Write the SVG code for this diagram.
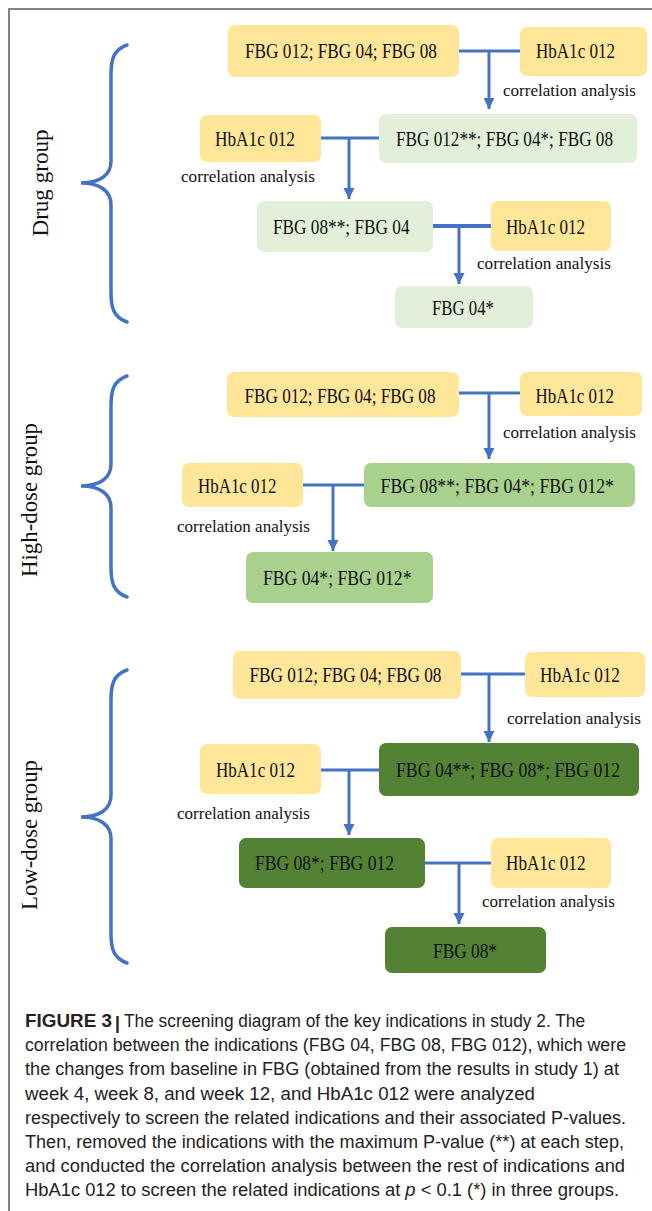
<svg xmlns="http://www.w3.org/2000/svg" width="652" height="1211" viewBox="0 0 652 1211">
<style>
.bg{fill:#ffffff}
.frame{stroke:#5a5a5a;stroke-width:1.5;fill:none}
.brace{stroke:#4472C4;stroke-width:3.5;fill:none;stroke-linecap:round}
.yel{fill:#FFE699}
.lg{fill:#E2F0D9}
.mg{fill:#A9D18E}
.dg{fill:#548235}
.t{font-family:"Liberation Serif","Times New Roman",serif;font-size:20px;fill:#111}
.l{font-family:"Liberation Serif","Times New Roman",serif;font-size:17.5px;fill:#111}
.g{font-family:"Liberation Serif","Times New Roman",serif;font-size:24px;fill:#111}
.c{stroke:#4472C4;stroke-width:3;fill:none}
.cap{font-family:"Liberation Sans",Arial,sans-serif;font-size:17.5px;fill:#222}
</style>
<defs>
<marker id="ah" viewBox="0 0 10 10" refX="10" refY="5" markerWidth="3.8" markerHeight="3.8" orient="auto">
<path d="M0,0 L10,5 L0,10 z" fill="#4472C4"/>
</marker>
</defs>
<rect class="bg" x="0" y="0" width="652" height="1211"/>
<path class="frame" d="M9,1211 L9,9 L652,9"/>

<g id="braces">
<path class="brace" d="M127,45 C113,50 111,60 111,75 L111,161 C111,175 100,183 81,183 C100,183 111,191 111,205 L111,292 C111,307 113,317 127,322"/>
<path class="brace" d="M127,376 C113,381 111,391 111,406 L111,464 C111,478 100,486 81,486 C100,486 111,494 111,508 L111,567 C111,582 113,592 127,597"/>
<path class="brace" d="M127,670 C113,675 111,685 111,700 L111,795 C111,809 100,817 81,817 C100,817 111,825 111,839 L111,933 C111,948 113,958 127,963"/>
</g>

<g id="group-labels">
<text class="g" transform="translate(48,183) rotate(-90)" x="-53.5" y="0" textLength="107" lengthAdjust="spacingAndGlyphs">Drug group</text>
<text class="g" transform="translate(37,500) rotate(-90)" x="-77" y="0" textLength="154" lengthAdjust="spacingAndGlyphs">High-dose group</text>
<text class="g" transform="translate(37,835) rotate(-90)" x="-75" y="0" textLength="150" lengthAdjust="spacingAndGlyphs">Low-dose group</text>
</g>

<g id="connectors">
<line class="c" x1="459" y1="51" x2="520" y2="51"/>
<line class="c" x1="489" y1="51" x2="489" y2="109" marker-end="url(#ah)"/>
<line class="c" x1="321" y1="138" x2="379" y2="138"/>
<line class="c" x1="349" y1="138" x2="349" y2="199" marker-end="url(#ah)"/>
<line class="c" x1="433" y1="226" x2="491" y2="226" style="stroke-width:4"/>
<line class="c" x1="459" y1="226" x2="459" y2="284" marker-end="url(#ah)"/>

<line class="c" x1="459" y1="393" x2="520" y2="393"/>
<line class="c" x1="489" y1="393" x2="489" y2="459" marker-end="url(#ah)"/>
<line class="c" x1="303" y1="485" x2="364" y2="485"/>
<line class="c" x1="333" y1="485" x2="333" y2="551" marker-end="url(#ah)"/>

<line class="c" x1="461" y1="674" x2="525" y2="674"/>
<line class="c" x1="489" y1="674" x2="489" y2="742" marker-end="url(#ah)"/>
<line class="c" x1="321" y1="770" x2="379" y2="770"/>
<line class="c" x1="349" y1="770" x2="349" y2="835" marker-end="url(#ah)"/>
<line class="c" x1="425" y1="863" x2="491" y2="863"/>
<line class="c" x1="459" y1="863" x2="459" y2="924" marker-end="url(#ah)"/>
</g>

<g id="labels">
<text class="l" x="503" y="96" textLength="133" lengthAdjust="spacingAndGlyphs">correlation analysis</text>
<text class="l" x="181" y="182" textLength="134" lengthAdjust="spacingAndGlyphs">correlation analysis</text>
<text class="l" x="477" y="268.5" textLength="134" lengthAdjust="spacingAndGlyphs">correlation analysis</text>
<text class="l" x="503" y="438" textLength="133" lengthAdjust="spacingAndGlyphs">correlation analysis</text>
<text class="l" x="177" y="532" textLength="133" lengthAdjust="spacingAndGlyphs">correlation analysis</text>
<text class="l" x="507" y="724" textLength="134" lengthAdjust="spacingAndGlyphs">correlation analysis</text>
<text class="l" x="177" y="819" textLength="133" lengthAdjust="spacingAndGlyphs">correlation analysis</text>
<text class="l" x="482" y="906.5" textLength="133" lengthAdjust="spacingAndGlyphs">correlation analysis</text>
</g>

<g id="drug-A"><rect class="yel" x="228" y="25" width="231" height="52" rx="7"/><text class="t" x="245" y="58" textLength="192" lengthAdjust="spacingAndGlyphs">FBG 012; FBG 04; FBG 08</text></g>
<g id="drug-B"><rect class="yel" x="520" y="27" width="127" height="49" rx="7"/><text class="t" x="536" y="58" textLength="79" lengthAdjust="spacingAndGlyphs">HbA1c 012</text></g>
<g id="drug-C"><rect class="lg" x="379" y="114" width="258" height="49" rx="7"/><text class="t" x="396" y="146" textLength="217" lengthAdjust="spacingAndGlyphs">FBG 012**; FBG 04*; FBG 08</text></g>
<g id="drug-D"><rect class="yel" x="200" y="115" width="121" height="47" rx="7"/><text class="t" x="215" y="146" textLength="80" lengthAdjust="spacingAndGlyphs">HbA1c 012</text></g>
<g id="drug-E"><rect class="lg" x="257" y="201" width="176" height="51" rx="7"/><text class="t" x="273" y="233.5" textLength="136.5" lengthAdjust="spacingAndGlyphs">FBG 08**; FBG 04</text></g>
<g id="drug-F"><rect class="yel" x="491" y="201" width="120" height="50" rx="7"/><text class="t" x="506" y="233.5" textLength="79" lengthAdjust="spacingAndGlyphs">HbA1c 012</text></g>
<g id="drug-G"><rect class="lg" x="395" y="286" width="138" height="42" rx="7"/><text class="t" x="432" y="315" textLength="62" lengthAdjust="spacingAndGlyphs">FBG 04*</text></g>

<g id="high-A"><rect class="yel" x="227" y="372" width="232" height="45" rx="7"/><text class="t" x="244.5" y="403" textLength="191" lengthAdjust="spacingAndGlyphs">FBG 012; FBG 04; FBG 08</text></g>
<g id="high-B"><rect class="yel" x="520" y="372" width="122" height="44" rx="7"/><text class="t" x="535.5" y="403" textLength="78.5" lengthAdjust="spacingAndGlyphs">HbA1c 012</text></g>
<g id="high-C"><rect class="mg" x="364" y="463" width="271" height="44" rx="7"/><text class="t" x="380.5" y="493" textLength="233.5" lengthAdjust="spacingAndGlyphs">FBG 08**; FBG 04*; FBG 012*</text></g>
<g id="high-D"><rect class="yel" x="182" y="463" width="121" height="44" rx="7"/><text class="t" x="198" y="493" textLength="78.5" lengthAdjust="spacingAndGlyphs">HbA1c 012</text></g>
<g id="high-E"><rect class="mg" x="246" y="552" width="187" height="51" rx="7"/><text class="t" x="263" y="585" textLength="148.5" lengthAdjust="spacingAndGlyphs">FBG 04*; FBG 012*</text></g>

<g id="low-A"><rect class="yel" x="233" y="651" width="228" height="48" rx="7"/><text class="t" x="249.5" y="682" textLength="192" lengthAdjust="spacingAndGlyphs">FBG 012; FBG 04; FBG 08</text></g>
<g id="low-B"><rect class="yel" x="525" y="652" width="120" height="45" rx="7"/><text class="t" x="540" y="682" textLength="80" lengthAdjust="spacingAndGlyphs">HbA1c 012</text></g>
<g id="low-C"><rect class="dg" x="379" y="743" width="260" height="53" rx="7"/><text class="t" x="396" y="777" textLength="224" lengthAdjust="spacingAndGlyphs">FBG 04**; FBG 08*; FBG 012</text></g>
<g id="low-D"><rect class="yel" x="200" y="744" width="121" height="50" rx="7"/><text class="t" x="216" y="777" textLength="79" lengthAdjust="spacingAndGlyphs">HbA1c 012</text></g>
<g id="low-E"><rect class="dg" x="239" y="838" width="186" height="50" rx="7"/><text class="t" x="255" y="870" textLength="139" lengthAdjust="spacingAndGlyphs">FBG 08*; FBG 012</text></g>
<g id="low-F"><rect class="yel" x="491" y="838" width="120" height="50" rx="7"/><text class="t" x="506" y="870" textLength="79.5" lengthAdjust="spacingAndGlyphs">HbA1c 012</text></g>
<g id="low-G"><rect class="dg" x="385" y="927" width="161" height="46" rx="7"/><text class="t" x="433" y="958" textLength="64" lengthAdjust="spacingAndGlyphs">FBG 08*</text></g>

<g id="caption">
<text class="cap" x="25" y="1027.3" font-weight="bold" textLength="87" lengthAdjust="spacingAndGlyphs">FIGURE 3</text>
<text class="cap" x="115" y="1028.5" font-weight="bold" font-size="19">|</text>
<text class="cap" x="124" y="1027.3" textLength="461" lengthAdjust="spacingAndGlyphs">The screening diagram of the key indications in study 2. The</text>
<text class="cap" x="25" y="1051.4" textLength="601" lengthAdjust="spacingAndGlyphs">correlation between the indications (FBG 04, FBG 08, FBG 012), which were</text>
<text class="cap" x="25" y="1075.4" textLength="594" lengthAdjust="spacingAndGlyphs">the changes from baseline in FBG (obtained from the results in study 1) at</text>
<text class="cap" x="25" y="1099.5" textLength="510" lengthAdjust="spacingAndGlyphs">week 4, week 8, and week 12, and HbA1c 012 were analyzed</text>
<text class="cap" x="25" y="1123.5" textLength="601" lengthAdjust="spacingAndGlyphs">respectively to screen the related indications and their associated P-values.</text>
<text class="cap" x="25" y="1147.6" textLength="599" lengthAdjust="spacingAndGlyphs">Then, removed the indications with the maximum P-value (**) at each step,</text>
<text class="cap" x="25" y="1171.7" textLength="600" lengthAdjust="spacingAndGlyphs">and conducted the correlation analysis between the rest of indications and</text>
<text class="cap" x="25" y="1195.7" textLength="594" lengthAdjust="spacingAndGlyphs">HbA1c 012 to screen the related indications at <tspan font-style="italic">p</tspan> &lt; 0.1 (*) in three groups.</text>
</g>
</svg>
